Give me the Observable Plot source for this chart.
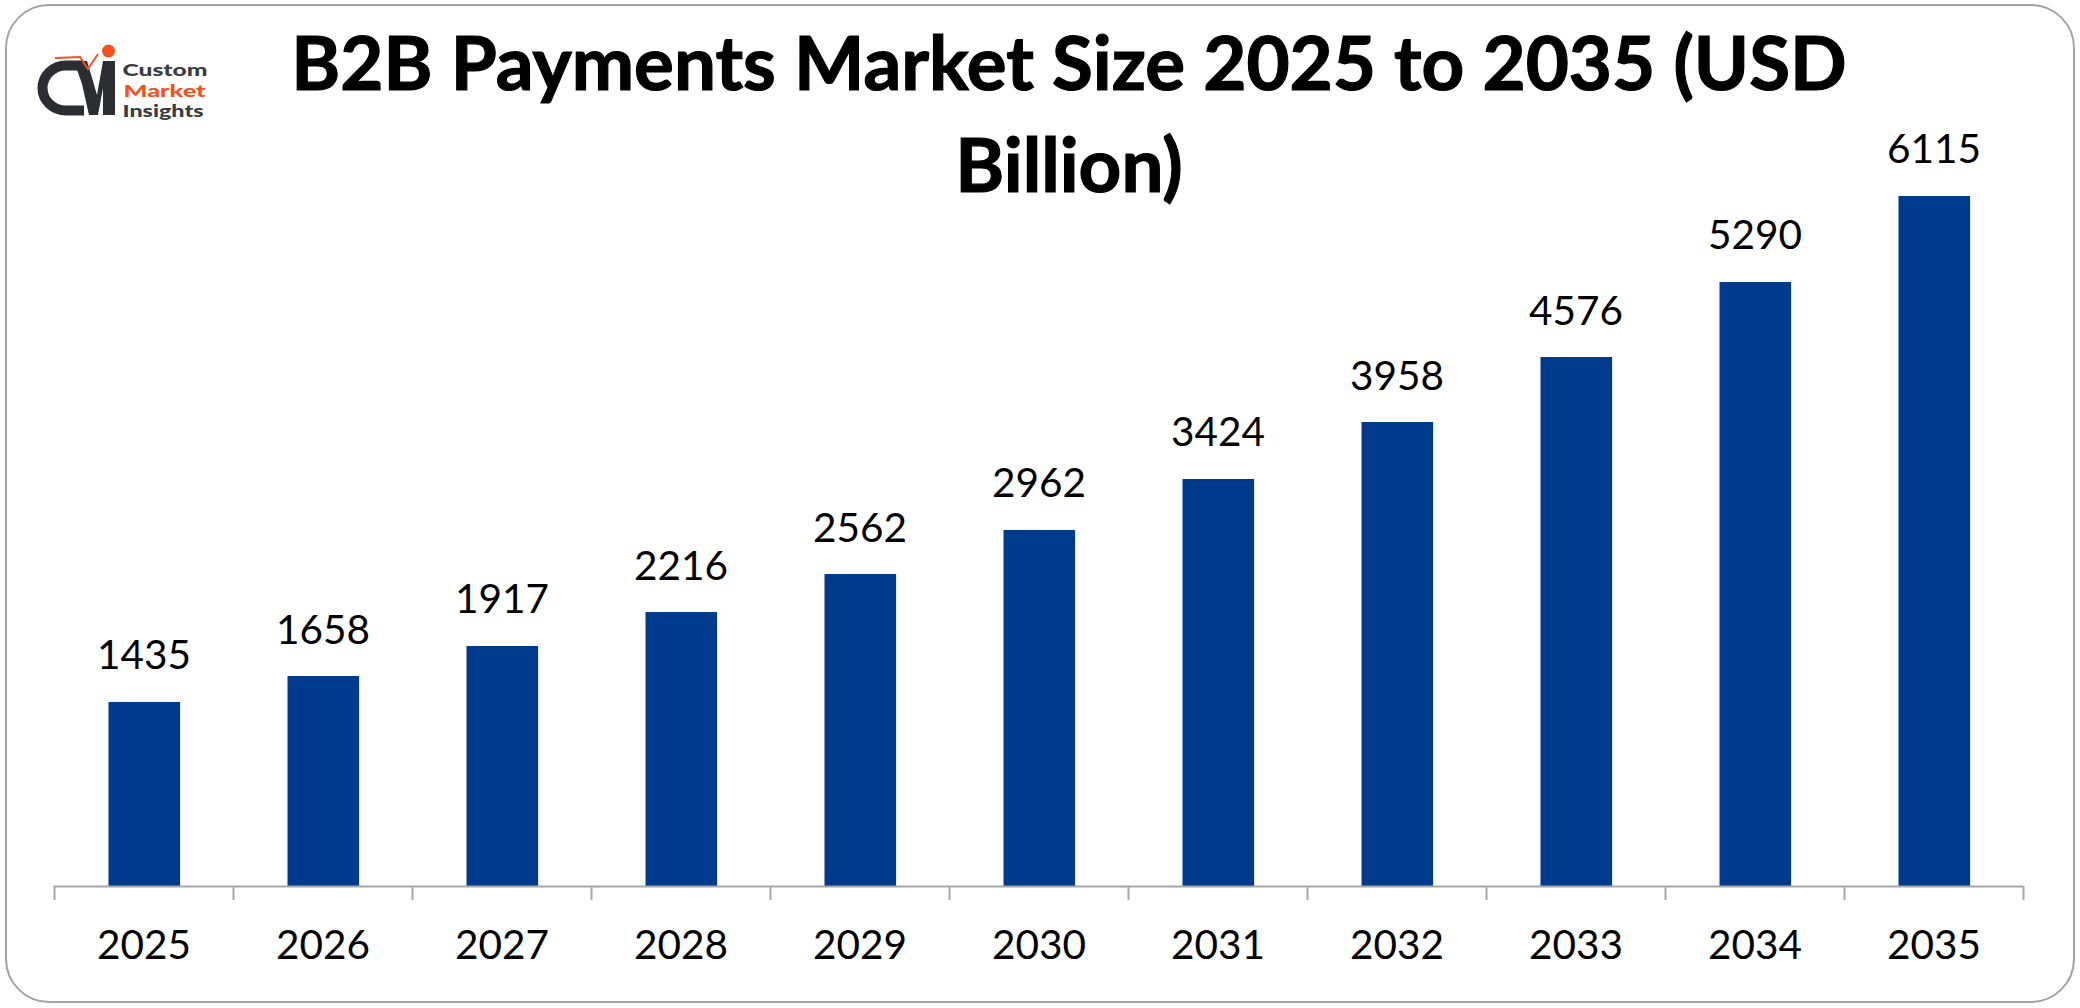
<!DOCTYPE html>
<html>
<head>
<meta charset="utf-8">
<title>B2B Payments Market Size 2025 to 2035</title>
<script src="https://cdn.jsdelivr.net/npm/d3@7"></script>
<script src="https://cdn.jsdelivr.net/npm/@observablehq/plot@0.6"></script>
<style>
  html, body { margin: 0; padding: 0; background: #fff; }
  #page { position: relative; width: 2080px; height: 1008px; overflow: hidden; font-family: Lato, sans-serif; }
  #card { position: absolute; left: 5px; top: 4px; width: 2066px; height: 995px; border: 2px solid #a3a3a3; border-radius: 44px; box-sizing: content-box; }
  #chart { position: absolute; left: 0; top: 0; }
  #chart svg { display: block; }
  #title { position: absolute; left: 69px; width: 2000px; top: 10px; text-align: center; font-weight: 700; font-size: 74.5px; line-height: 102px; color: #000; -webkit-text-stroke: 1.2px #000; }
  #logo { position: absolute; left: 0; top: 0; }
</style>
</head>
<body>
<div id="page">
  <div id="card"></div>
  <div id="chart"></div>
  <div id="title">B2B Payments Market Size 2025 to 2035 (USD<br>Billion)</div>
  <svg id="logo" width="220" height="130" viewBox="0 0 220 130">
    <path d="M84 65.5 H66 A23.5 22.5 0 0 0 66 110.5 H84" fill="none" stroke="#2b2d33" stroke-width="10"/>
    <path d="M74 61 H87 L97 95 L103 61 H115 V115 H103 V88 L98 115 H89 L82 84 Z" fill="#2b2d33"/>
    <path d="M55 58 L80 57 L88 69 L98 54" fill="none" stroke="#f4511e" stroke-width="2"/>
    <circle cx="108.5" cy="51" r="6.5" fill="#f4511e"/>
    <g font-family="Lato, sans-serif" font-weight="900" font-size="17">
      <text x="122.5" y="76" fill="#3a3c42" textLength="85" lengthAdjust="spacingAndGlyphs">Custom</text>
      <text x="123.5" y="96.5" fill="#f4511e" textLength="82" lengthAdjust="spacingAndGlyphs">Market</text>
      <text x="122.5" y="117" fill="#3a3c42" textLength="81" lengthAdjust="spacingAndGlyphs">Insights</text>
    </g>
  </svg>
</div>
<script>
const years = [2025, 2026, 2027, 2028, 2029, 2030, 2031, 2032, 2033, 2034, 2035];
// The numbers printed above the bars.
const labelValues = [1435, 1658, 1917, 2216, 2562, 2962, 3424, 3958, 4576, 5290, 6115];
// The reference's bars are not quite proportional to their printed numbers,
// so the drawn heights are read separately from the picture (scaled so 2035 = 6115).
const barValues = [1631, 1861, 2127, 2428, 2765, 3155, 3607, 4112, 4688, 5353, 6115];
const tickEdges = [2024.5, 2025.5, 2026.5, 2027.5, 2028.5, 2029.5, 2030.5, 2031.5, 2032.5, 2033.5, 2034.5, 2035.5];

const rows = years.map((year, i) => ({year, label: labelValues[i], bar: barValues[i]}));
const barHalf = 0.2;
const axisColor = "#a6a6a6";

const plot = Plot.plot({
  width: 2080,
  height: 1008,
  marginTop: 0,
  marginRight: 57,
  marginBottom: 122,
  marginLeft: 54,
  style: {fontFamily: "Lato, sans-serif", background: "transparent", overflow: "visible"},
  x: {type: "linear", domain: [2024.5, 2035.5], axis: null},
  y: {domain: [0, 7852], axis: null},
  marks: [
    Plot.rectY(rows, {x1: d => d.year - barHalf, x2: d => d.year + barHalf, y1: 0, y2: "bar", fill: "#003a8c", dx: 0.8}),
    Plot.ruleY([0], {stroke: axisColor, strokeWidth: 2}),
    Plot.axisX(tickEdges, {tickSize: 14, tickFormat: () => "", stroke: axisColor, strokeWidth: 2, label: null}),
    Plot.axisX(years, {tickSize: 0, tickPadding: 43.5, tickFormat: d => String(d), fontSize: 40.5, fill: "#000", label: null}),
    Plot.text(rows, {x: "year", y: "bar", text: d => String(d.label), dy: -33, lineAnchor: "bottom", fontSize: 40.5, fill: "#000"})
  ]
});
document.getElementById("chart").append(plot);
</script>
</body>
</html>
